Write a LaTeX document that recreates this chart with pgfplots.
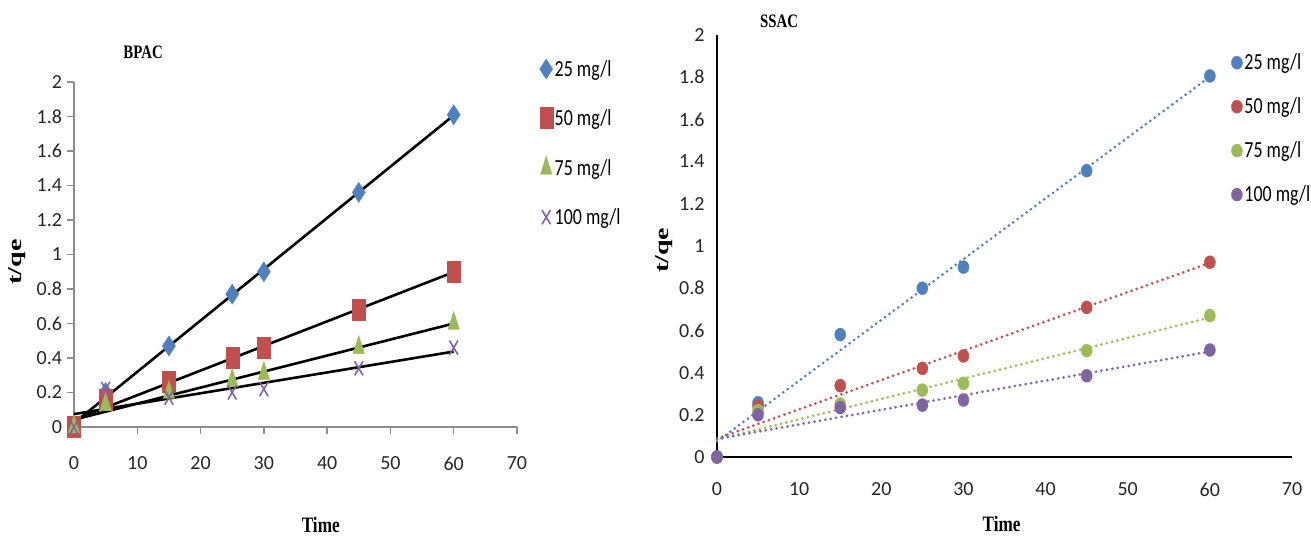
\documentclass[border=0pt]{standalone}
\usepackage{pgfplots}
\usepackage{pgfplotstable}
\pgfplotsset{compat=1.18}
\usepackage{fontspec}
\setmainfont{Liberation Serif}
\newfontfamily\tickfont{Carlito}
\newfontfamily\legfont{Carlito}[FakeStretch=0.78]
\newfontfamily\labfont{Liberation Serif}[FakeStretch=0.78]
\newfontfamily\ylabfont{Liberation Serif}

\definecolor{xlblue}{HTML}{4F81BD}
\definecolor{xlred}{HTML}{C0504D}
\definecolor{xlgreen}{HTML}{9BBB59}
\definecolor{xlpurple}{HTML}{8064A2}
\definecolor{axgray}{HTML}{8C8C8C}

% t/qe against time, BPAC
\pgfplotstableread{
t  a25  a50  a75  a100
0  0    0    0    0
5  0.20 0.16 0.13 0.22
15 0.47 0.26 0.20 0.17
25 0.77 0.40 0.27 0.20
30 0.90 0.46 0.31 0.22
45 1.36 0.68 0.46 0.34
60 1.81 0.90 0.60 0.46
}\bpac

% t/qe against time, SSAC
\pgfplotstableread{
t  b25   b50   b75   b100
0  0     0     0     0
5  0.257 0.240 0.220 0.200
15 0.580 0.338 0.251 0.234
25 0.800 0.420 0.317 0.246
30 0.900 0.479 0.349 0.270
45 1.357 0.709 0.504 0.385
60 1.806 0.923 0.670 0.507
}\ssac

\tikzset{
  titlefont/.style={font=\labfont\bfseries\fontsize{19}{19}\selectfont},
  timefont/.style={font=\labfont\bfseries\fontsize{22}{22}\selectfont},
  yfont/.style={font=\ylabfont\bfseries\fontsize{28}{28}\selectfont},
  trend/.style={no marks, line width=3pt,
    line cap=round, dash pattern=on 0pt off 5.5pt},
}

\pgfplotsset{
  common/.style={
    scale only axis, clip=false,
    xmin=0, xmax=70, ymin=0, ymax=2,
    xtick={0,10,20,30,40,50,60,70},
    xticklabels={0,10,20,30,40,50,60,70},
    ytick={0,0.2,0.4,0.6,0.8,1,1.2,1.4,1.6,1.8,2},
    yticklabels={0,0.2,0.4,0.6,0.8,1,1.2,1.4,1.6,1.8,2},
    ticklabel style={font=\tickfont\fontsize{20}{20}\selectfont, text=black!85},
    axis x line=bottom, axis y line=left,
    legend cell align=left,
  },
}

\begin{document}
\begin{tikzpicture}[x=1pt,y=1pt]
\useasboundingbox (0,0) rectangle (1311,537);

\begin{axis}[common,
  at={(74pt,110pt)}, anchor=south west,
  width=443pt, height=345pt,
  axis line style={-, draw=axgray, line width=1.3pt},
  tick style={draw=axgray, line width=1.3pt},
  tick align=outside, major tick length=7pt,
  xticklabel shift=19pt, yticklabel shift=1.5pt,
  legend style={at={(rel axis cs:1.044,1.075)}, anchor=north west,
    draw=none, fill=none, row sep=27.5pt,
    font=\legfont\fontsize{23}{23}\selectfont},
]
\addplot[only marks, mark=diamond*, mark size=10pt, color=xlblue,
  mark options={xscale=0.87}] table[x=t, y=a25] {\bpac};
\addlegendentry{25 mg/l}
\addplot[only marks, mark=square*, mark size=10.5pt, color=xlred,
  mark options={xscale=0.62}] table[x=t, y=a50] {\bpac};
\addlegendentry{50 mg/l}
\addplot[only marks, mark=triangle*, mark size=12pt, color=xlgreen,
  mark options={xscale=0.55}] table[x=t, y=a75] {\bpac};
\addlegendentry{75 mg/l}
\addplot[only marks, mark=x, mark size=10pt, color=xlpurple,
  mark options={xscale=0.6, line width=1.6pt}] table[x=t, y=a100] {\bpac};
\addlegendentry{100 mg/l}

% least-squares trend lines
\addplot[forget plot, black, line width=2.6pt, no marks]
  table[x=t, y={create col/linear regression={y=a25}}] {\bpac};
\addplot[forget plot, black, line width=2.6pt, no marks]
  table[x=t, y={create col/linear regression={y=a50}}] {\bpac};
\addplot[forget plot, black, line width=2.6pt, no marks]
  table[x=t, y={create col/linear regression={y=a75}}] {\bpac};
\addplot[forget plot, black, line width=2.6pt, no marks]
  table[x=t, y={create col/linear regression={y=a100}}] {\bpac};

\node[titlefont] at (rel axis cs:0.156,1.087) {BPAC};
\node[timefont] at (rel axis cs:0.557,0) [yshift=-98pt] {Time};
\node[yfont, xscale=0.7, rotate=90] at (rel axis cs:-0.1287,0.478) {t/qe};
\end{axis}

\begin{axis}[common,
  at={(717pt,80pt)}, anchor=south west,
  width=575pt, height=422pt,
  axis line style={-, draw=black, line width=2.7pt},
  major tick length=0pt,
  xticklabel shift=22pt, yticklabel shift=9pt,
  legend style={at={(rel axis cs:0.889,0.965)}, anchor=north west,
    draw=none, fill=none, row sep=22.5pt,
    font=\legfont\fontsize{23}{23}\selectfont},
]
\addplot[forget plot, trend, xlblue]
  table[x=t, y={create col/linear regression={y=b25}}] {\ssac};
\addplot[forget plot, trend, xlred]
  table[x=t, y={create col/linear regression={y=b50}}] {\ssac};
\addplot[forget plot, trend, xlgreen]
  table[x=t, y={create col/linear regression={y=b75}}] {\ssac};
\addplot[forget plot, trend, xlpurple]
  table[x=t, y={create col/linear regression={y=b100}}] {\ssac};

\addplot[only marks, mark=*, mark size=6.5pt, color=xlblue,
  mark options={xscale=0.85}] table[x=t, y=b25] {\ssac};
\addlegendentry{25 mg/l}
\addplot[only marks, mark=*, mark size=6.5pt, color=xlred,
  mark options={xscale=0.85}] table[x=t, y=b50] {\ssac};
\addlegendentry{50 mg/l}
\addplot[only marks, mark=*, mark size=6.5pt, color=xlgreen,
  mark options={xscale=0.85}] table[x=t, y=b75] {\ssac};
\addlegendentry{75 mg/l}
\addplot[only marks, mark=*, mark size=6.5pt, color=xlpurple,
  mark options={xscale=0.85}] table[x=t, y=b100] {\ssac};
\addlegendentry{100 mg/l}

\node[titlefont] at (rel axis cs:0.108,1) [yshift=14pt] {SSAC};
\node[timefont] at (rel axis cs:0.495,0) [yshift=-67pt] {Time};
\node[yfont, xscale=0.7, rotate=90] at (rel axis cs:-0.0922,0.49) {t/qe};
\end{axis}
\end{tikzpicture}
\end{document}
